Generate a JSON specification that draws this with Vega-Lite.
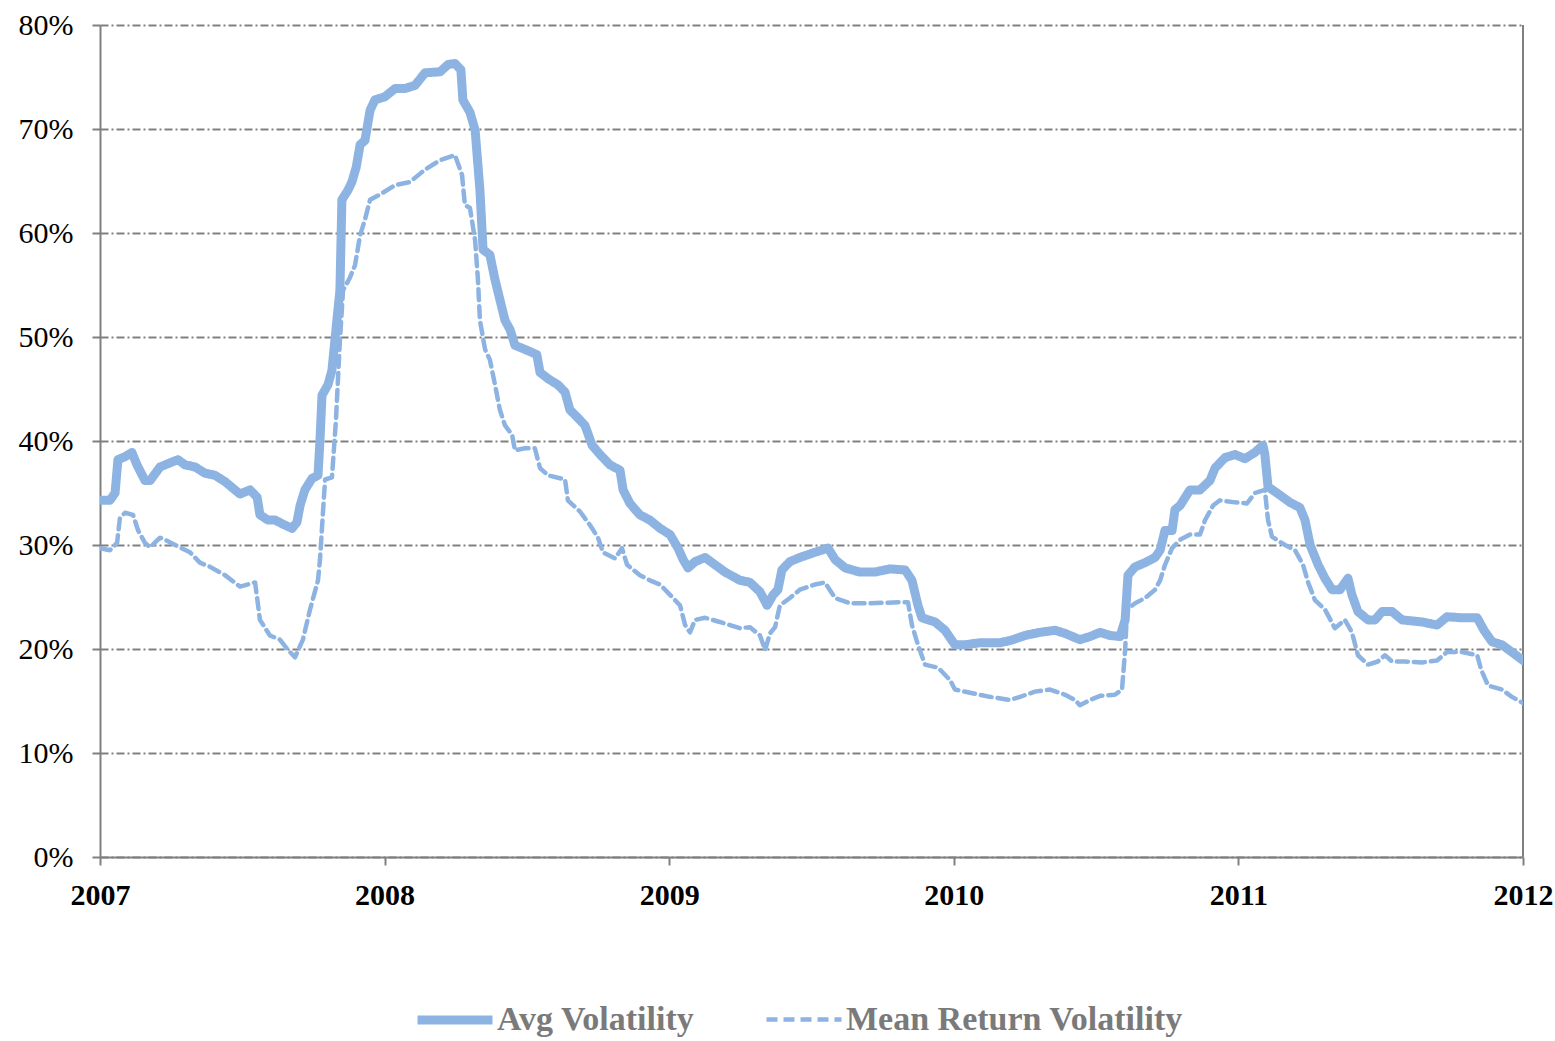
{
  "$schema": "https://vega.github.io/schema/vega-lite/v6.json",
  "width": 1423,
  "height": 832,
  "autosize": "none",
  "padding": {"left": 100, "top": 25, "right": 32, "bottom": 184},
  "background": "white",
  "config": {
    "view": {"stroke": null},
    "font": "Liberation Serif",
    "axis": {"domainColor": "#808080", "domainWidth": 2, "tickColor": "#808080", "tickWidth": 2, "tickSize": 8, "labelFont": "Liberation Serif", "labelColor": "#000000", "title": null},
    "legend": {
      "orient": "none", "legendX": 313, "legendY": 953, "direction": "horizontal", "columns": 2,
      "symbolType": "stroke", "symbolSize": 5625, "symbolStrokeColor": "#8db3e2",
      "labelFont": "Liberation Serif", "labelFontSize": 34, "labelFontWeight": "bold", "labelColor": "#7a7a7a",
      "labelLimit": 600, "labelOffset": 0, "columnPadding": 62, "padding": 0
    }
  },
  "datasets": {
    "vol": [
      {"s":"Avg Volatility","t":2007.000,"v":34.3},{"s":"Avg Volatility","t":2007.035,"v":34.3},{"s":"Avg Volatility","t":2007.053,"v":35.0},{"s":"Avg Volatility","t":2007.063,"v":38.2},{"s":"Avg Volatility","t":2007.088,"v":38.5},{"s":"Avg Volatility","t":2007.112,"v":38.9},{"s":"Avg Volatility","t":2007.130,"v":37.7},{"s":"Avg Volatility","t":2007.158,"v":36.2},{"s":"Avg Volatility","t":2007.176,"v":36.2},{"s":"Avg Volatility","t":2007.211,"v":37.5},{"s":"Avg Volatility","t":2007.246,"v":37.9},{"s":"Avg Volatility","t":2007.274,"v":38.2},{"s":"Avg Volatility","t":2007.299,"v":37.7},{"s":"Avg Volatility","t":2007.334,"v":37.5},{"s":"Avg Volatility","t":2007.369,"v":36.9},{"s":"Avg Volatility","t":2007.404,"v":36.7},{"s":"Avg Volatility","t":2007.439,"v":36.1},{"s":"Avg Volatility","t":2007.474,"v":35.3},{"s":"Avg Volatility","t":2007.492,"v":34.9},{"s":"Avg Volatility","t":2007.527,"v":35.3},{"s":"Avg Volatility","t":2007.552,"v":34.6},{"s":"Avg Volatility","t":2007.562,"v":32.9},{"s":"Avg Volatility","t":2007.590,"v":32.4},{"s":"Avg Volatility","t":2007.615,"v":32.4},{"s":"Avg Volatility","t":2007.643,"v":32.0},{"s":"Avg Volatility","t":2007.675,"v":31.6},{"s":"Avg Volatility","t":2007.692,"v":32.2},{"s":"Avg Volatility","t":2007.703,"v":33.8},{"s":"Avg Volatility","t":2007.720,"v":35.3},{"s":"Avg Volatility","t":2007.745,"v":36.4},{"s":"Avg Volatility","t":2007.766,"v":36.7},{"s":"Avg Volatility","t":2007.773,"v":40.1},{"s":"Avg Volatility","t":2007.780,"v":44.4},{"s":"Avg Volatility","t":2007.801,"v":45.4},{"s":"Avg Volatility","t":2007.815,"v":46.8},{"s":"Avg Volatility","t":2007.829,"v":50.7},{"s":"Avg Volatility","t":2007.843,"v":54.5},{"s":"Avg Volatility","t":2007.850,"v":63.2},{"s":"Avg Volatility","t":2007.871,"v":64.1},{"s":"Avg Volatility","t":2007.885,"v":64.9},{"s":"Avg Volatility","t":2007.900,"v":66.3},{"s":"Avg Volatility","t":2007.914,"v":68.5},{"s":"Avg Volatility","t":2007.931,"v":68.9},{"s":"Avg Volatility","t":2007.949,"v":71.8},{"s":"Avg Volatility","t":2007.966,"v":72.8},{"s":"Avg Volatility","t":2008.001,"v":73.1},{"s":"Avg Volatility","t":2008.037,"v":73.9},{"s":"Avg Volatility","t":2008.072,"v":73.9},{"s":"Avg Volatility","t":2008.107,"v":74.2},{"s":"Avg Volatility","t":2008.142,"v":75.4},{"s":"Avg Volatility","t":2008.195,"v":75.5},{"s":"Avg Volatility","t":2008.223,"v":76.2},{"s":"Avg Volatility","t":2008.247,"v":76.3},{"s":"Avg Volatility","t":2008.268,"v":75.7},{"s":"Avg Volatility","t":2008.275,"v":72.8},{"s":"Avg Volatility","t":2008.300,"v":71.6},{"s":"Avg Volatility","t":2008.318,"v":69.9},{"s":"Avg Volatility","t":2008.335,"v":64.1},{"s":"Avg Volatility","t":2008.346,"v":58.4},{"s":"Avg Volatility","t":2008.370,"v":57.9},{"s":"Avg Volatility","t":2008.388,"v":55.5},{"s":"Avg Volatility","t":2008.405,"v":53.6},{"s":"Avg Volatility","t":2008.423,"v":51.6},{"s":"Avg Volatility","t":2008.441,"v":50.7},{"s":"Avg Volatility","t":2008.458,"v":49.2},{"s":"Avg Volatility","t":2008.476,"v":49.0},{"s":"Avg Volatility","t":2008.511,"v":48.6},{"s":"Avg Volatility","t":2008.535,"v":48.3},{"s":"Avg Volatility","t":2008.546,"v":46.6},{"s":"Avg Volatility","t":2008.574,"v":46.0},{"s":"Avg Volatility","t":2008.609,"v":45.4},{"s":"Avg Volatility","t":2008.634,"v":44.7},{"s":"Avg Volatility","t":2008.651,"v":43.0},{"s":"Avg Volatility","t":2008.680,"v":42.2},{"s":"Avg Volatility","t":2008.704,"v":41.5},{"s":"Avg Volatility","t":2008.729,"v":39.6},{"s":"Avg Volatility","t":2008.757,"v":38.7},{"s":"Avg Volatility","t":2008.792,"v":37.7},{"s":"Avg Volatility","t":2008.827,"v":37.2},{"s":"Avg Volatility","t":2008.838,"v":35.3},{"s":"Avg Volatility","t":2008.862,"v":34.0},{"s":"Avg Volatility","t":2008.897,"v":32.9},{"s":"Avg Volatility","t":2008.932,"v":32.4},{"s":"Avg Volatility","t":2008.968,"v":31.6},{"s":"Avg Volatility","t":2009.003,"v":31.0},{"s":"Avg Volatility","t":2009.031,"v":29.7},{"s":"Avg Volatility","t":2009.049,"v":28.6},{"s":"Avg Volatility","t":2009.066,"v":27.8},{"s":"Avg Volatility","t":2009.091,"v":28.4},{"s":"Avg Volatility","t":2009.126,"v":28.8},{"s":"Avg Volatility","t":2009.161,"v":28.1},{"s":"Avg Volatility","t":2009.196,"v":27.4},{"s":"Avg Volatility","t":2009.249,"v":26.6},{"s":"Avg Volatility","t":2009.284,"v":26.4},{"s":"Avg Volatility","t":2009.319,"v":25.5},{"s":"Avg Volatility","t":2009.344,"v":24.2},{"s":"Avg Volatility","t":2009.365,"v":25.2},{"s":"Avg Volatility","t":2009.382,"v":25.7},{"s":"Avg Volatility","t":2009.396,"v":27.6},{"s":"Avg Volatility","t":2009.424,"v":28.4},{"s":"Avg Volatility","t":2009.459,"v":28.8},{"s":"Avg Volatility","t":2009.512,"v":29.3},{"s":"Avg Volatility","t":2009.558,"v":29.7},{"s":"Avg Volatility","t":2009.583,"v":28.6},{"s":"Avg Volatility","t":2009.618,"v":27.8},{"s":"Avg Volatility","t":2009.670,"v":27.4},{"s":"Avg Volatility","t":2009.723,"v":27.4},{"s":"Avg Volatility","t":2009.776,"v":27.7},{"s":"Avg Volatility","t":2009.829,"v":27.6},{"s":"Avg Volatility","t":2009.853,"v":26.6},{"s":"Avg Volatility","t":2009.874,"v":24.2},{"s":"Avg Volatility","t":2009.888,"v":23.0},{"s":"Avg Volatility","t":2009.934,"v":22.6},{"s":"Avg Volatility","t":2009.969,"v":21.8},{"s":"Avg Volatility","t":2010.004,"v":20.4},{"s":"Avg Volatility","t":2010.039,"v":20.4},{"s":"Avg Volatility","t":2010.092,"v":20.6},{"s":"Avg Volatility","t":2010.162,"v":20.6},{"s":"Avg Volatility","t":2010.197,"v":20.8},{"s":"Avg Volatility","t":2010.250,"v":21.3},{"s":"Avg Volatility","t":2010.303,"v":21.6},{"s":"Avg Volatility","t":2010.356,"v":21.8},{"s":"Avg Volatility","t":2010.391,"v":21.5},{"s":"Avg Volatility","t":2010.443,"v":20.9},{"s":"Avg Volatility","t":2010.479,"v":21.2},{"s":"Avg Volatility","t":2010.514,"v":21.6},{"s":"Avg Volatility","t":2010.549,"v":21.3},{"s":"Avg Volatility","t":2010.584,"v":21.2},{"s":"Avg Volatility","t":2010.602,"v":22.8},{"s":"Avg Volatility","t":2010.612,"v":27.1},{"s":"Avg Volatility","t":2010.637,"v":27.9},{"s":"Avg Volatility","t":2010.672,"v":28.3},{"s":"Avg Volatility","t":2010.707,"v":28.8},{"s":"Avg Volatility","t":2010.725,"v":29.5},{"s":"Avg Volatility","t":2010.742,"v":31.4},{"s":"Avg Volatility","t":2010.767,"v":31.4},{"s":"Avg Volatility","t":2010.777,"v":33.4},{"s":"Avg Volatility","t":2010.795,"v":33.8},{"s":"Avg Volatility","t":2010.830,"v":35.3},{"s":"Avg Volatility","t":2010.865,"v":35.3},{"s":"Avg Volatility","t":2010.900,"v":36.2},{"s":"Avg Volatility","t":2010.918,"v":37.4},{"s":"Avg Volatility","t":2010.953,"v":38.4},{"s":"Avg Volatility","t":2010.988,"v":38.7},{"s":"Avg Volatility","t":2011.023,"v":38.3},{"s":"Avg Volatility","t":2011.058,"v":38.9},{"s":"Avg Volatility","t":2011.086,"v":39.6},{"s":"Avg Volatility","t":2011.093,"v":38.7},{"s":"Avg Volatility","t":2011.104,"v":35.6},{"s":"Avg Volatility","t":2011.146,"v":34.8},{"s":"Avg Volatility","t":2011.181,"v":34.1},{"s":"Avg Volatility","t":2011.216,"v":33.6},{"s":"Avg Volatility","t":2011.234,"v":32.4},{"s":"Avg Volatility","t":2011.252,"v":30.0},{"s":"Avg Volatility","t":2011.280,"v":28.1},{"s":"Avg Volatility","t":2011.304,"v":26.8},{"s":"Avg Volatility","t":2011.329,"v":25.7},{"s":"Avg Volatility","t":2011.357,"v":25.7},{"s":"Avg Volatility","t":2011.385,"v":26.8},{"s":"Avg Volatility","t":2011.399,"v":25.2},{"s":"Avg Volatility","t":2011.420,"v":23.6},{"s":"Avg Volatility","t":2011.455,"v":22.8},{"s":"Avg Volatility","t":2011.480,"v":22.8},{"s":"Avg Volatility","t":2011.505,"v":23.6},{"s":"Avg Volatility","t":2011.540,"v":23.6},{"s":"Avg Volatility","t":2011.575,"v":22.8},{"s":"Avg Volatility","t":2011.645,"v":22.6},{"s":"Avg Volatility","t":2011.698,"v":22.3},{"s":"Avg Volatility","t":2011.733,"v":23.1},{"s":"Avg Volatility","t":2011.786,"v":23.0},{"s":"Avg Volatility","t":2011.839,"v":23.0},{"s":"Avg Volatility","t":2011.863,"v":21.8},{"s":"Avg Volatility","t":2011.891,"v":20.7},{"s":"Avg Volatility","t":2011.926,"v":20.4},{"s":"Avg Volatility","t":2011.961,"v":19.7},{"s":"Avg Volatility","t":2012.000,"v":18.9},
      {"s":"Mean Return Volatility","t":2007.000,"v":29.7},{"s":"Mean Return Volatility","t":2007.035,"v":29.5},{"s":"Mean Return Volatility","t":2007.060,"v":30.2},{"s":"Mean Return Volatility","t":2007.070,"v":32.6},{"s":"Mean Return Volatility","t":2007.088,"v":33.1},{"s":"Mean Return Volatility","t":2007.116,"v":32.9},{"s":"Mean Return Volatility","t":2007.134,"v":31.4},{"s":"Mean Return Volatility","t":2007.158,"v":30.2},{"s":"Mean Return Volatility","t":2007.176,"v":29.8},{"s":"Mean Return Volatility","t":2007.211,"v":30.7},{"s":"Mean Return Volatility","t":2007.228,"v":30.5},{"s":"Mean Return Volatility","t":2007.264,"v":30.0},{"s":"Mean Return Volatility","t":2007.316,"v":29.3},{"s":"Mean Return Volatility","t":2007.351,"v":28.3},{"s":"Mean Return Volatility","t":2007.387,"v":27.9},{"s":"Mean Return Volatility","t":2007.439,"v":27.1},{"s":"Mean Return Volatility","t":2007.492,"v":26.0},{"s":"Mean Return Volatility","t":2007.545,"v":26.4},{"s":"Mean Return Volatility","t":2007.562,"v":22.8},{"s":"Mean Return Volatility","t":2007.597,"v":21.3},{"s":"Mean Return Volatility","t":2007.632,"v":20.9},{"s":"Mean Return Volatility","t":2007.661,"v":19.9},{"s":"Mean Return Volatility","t":2007.685,"v":19.2},{"s":"Mean Return Volatility","t":2007.713,"v":20.9},{"s":"Mean Return Volatility","t":2007.738,"v":23.8},{"s":"Mean Return Volatility","t":2007.766,"v":26.6},{"s":"Mean Return Volatility","t":2007.773,"v":28.6},{"s":"Mean Return Volatility","t":2007.784,"v":33.4},{"s":"Mean Return Volatility","t":2007.791,"v":36.3},{"s":"Mean Return Volatility","t":2007.815,"v":36.5},{"s":"Mean Return Volatility","t":2007.829,"v":42.0},{"s":"Mean Return Volatility","t":2007.843,"v":49.7},{"s":"Mean Return Volatility","t":2007.854,"v":54.5},{"s":"Mean Return Volatility","t":2007.878,"v":55.7},{"s":"Mean Return Volatility","t":2007.896,"v":56.9},{"s":"Mean Return Volatility","t":2007.914,"v":59.8},{"s":"Mean Return Volatility","t":2007.931,"v":61.3},{"s":"Mean Return Volatility","t":2007.949,"v":63.2},{"s":"Mean Return Volatility","t":2007.984,"v":63.7},{"s":"Mean Return Volatility","t":2008.037,"v":64.6},{"s":"Mean Return Volatility","t":2008.089,"v":64.9},{"s":"Mean Return Volatility","t":2008.142,"v":66.1},{"s":"Mean Return Volatility","t":2008.195,"v":67.0},{"s":"Mean Return Volatility","t":2008.247,"v":67.5},{"s":"Mean Return Volatility","t":2008.272,"v":65.6},{"s":"Mean Return Volatility","t":2008.282,"v":62.7},{"s":"Mean Return Volatility","t":2008.300,"v":62.4},{"s":"Mean Return Volatility","t":2008.318,"v":59.3},{"s":"Mean Return Volatility","t":2008.328,"v":55.5},{"s":"Mean Return Volatility","t":2008.335,"v":51.6},{"s":"Mean Return Volatility","t":2008.353,"v":48.8},{"s":"Mean Return Volatility","t":2008.370,"v":47.8},{"s":"Mean Return Volatility","t":2008.388,"v":45.4},{"s":"Mean Return Volatility","t":2008.405,"v":43.0},{"s":"Mean Return Volatility","t":2008.423,"v":41.5},{"s":"Mean Return Volatility","t":2008.448,"v":40.6},{"s":"Mean Return Volatility","t":2008.458,"v":39.1},{"s":"Mean Return Volatility","t":2008.493,"v":39.3},{"s":"Mean Return Volatility","t":2008.528,"v":39.3},{"s":"Mean Return Volatility","t":2008.546,"v":37.4},{"s":"Mean Return Volatility","t":2008.574,"v":36.7},{"s":"Mean Return Volatility","t":2008.634,"v":36.3},{"s":"Mean Return Volatility","t":2008.644,"v":34.3},{"s":"Mean Return Volatility","t":2008.687,"v":33.2},{"s":"Mean Return Volatility","t":2008.722,"v":31.9},{"s":"Mean Return Volatility","t":2008.750,"v":30.7},{"s":"Mean Return Volatility","t":2008.767,"v":29.3},{"s":"Mean Return Volatility","t":2008.810,"v":28.7},{"s":"Mean Return Volatility","t":2008.834,"v":29.7},{"s":"Mean Return Volatility","t":2008.852,"v":28.1},{"s":"Mean Return Volatility","t":2008.897,"v":27.1},{"s":"Mean Return Volatility","t":2008.932,"v":26.6},{"s":"Mean Return Volatility","t":2008.968,"v":26.2},{"s":"Mean Return Volatility","t":2009.003,"v":25.2},{"s":"Mean Return Volatility","t":2009.038,"v":24.2},{"s":"Mean Return Volatility","t":2009.056,"v":22.3},{"s":"Mean Return Volatility","t":2009.073,"v":21.6},{"s":"Mean Return Volatility","t":2009.091,"v":22.8},{"s":"Mean Return Volatility","t":2009.126,"v":23.0},{"s":"Mean Return Volatility","t":2009.178,"v":22.6},{"s":"Mean Return Volatility","t":2009.249,"v":22.0},{"s":"Mean Return Volatility","t":2009.284,"v":22.1},{"s":"Mean Return Volatility","t":2009.319,"v":21.3},{"s":"Mean Return Volatility","t":2009.337,"v":19.9},{"s":"Mean Return Volatility","t":2009.354,"v":21.5},{"s":"Mean Return Volatility","t":2009.372,"v":22.1},{"s":"Mean Return Volatility","t":2009.389,"v":24.2},{"s":"Mean Return Volatility","t":2009.424,"v":24.9},{"s":"Mean Return Volatility","t":2009.459,"v":25.7},{"s":"Mean Return Volatility","t":2009.512,"v":26.2},{"s":"Mean Return Volatility","t":2009.547,"v":26.4},{"s":"Mean Return Volatility","t":2009.583,"v":24.9},{"s":"Mean Return Volatility","t":2009.635,"v":24.4},{"s":"Mean Return Volatility","t":2009.706,"v":24.4},{"s":"Mean Return Volatility","t":2009.811,"v":24.5},{"s":"Mean Return Volatility","t":2009.839,"v":24.5},{"s":"Mean Return Volatility","t":2009.853,"v":22.3},{"s":"Mean Return Volatility","t":2009.874,"v":20.4},{"s":"Mean Return Volatility","t":2009.899,"v":18.5},{"s":"Mean Return Volatility","t":2009.945,"v":18.2},{"s":"Mean Return Volatility","t":2009.987,"v":17.0},{"s":"Mean Return Volatility","t":2010.004,"v":16.1},{"s":"Mean Return Volatility","t":2010.057,"v":15.8},{"s":"Mean Return Volatility","t":2010.127,"v":15.4},{"s":"Mean Return Volatility","t":2010.197,"v":15.1},{"s":"Mean Return Volatility","t":2010.233,"v":15.4},{"s":"Mean Return Volatility","t":2010.285,"v":15.9},{"s":"Mean Return Volatility","t":2010.338,"v":16.1},{"s":"Mean Return Volatility","t":2010.391,"v":15.6},{"s":"Mean Return Volatility","t":2010.426,"v":15.1},{"s":"Mean Return Volatility","t":2010.443,"v":14.6},{"s":"Mean Return Volatility","t":2010.479,"v":15.1},{"s":"Mean Return Volatility","t":2010.514,"v":15.5},{"s":"Mean Return Volatility","t":2010.566,"v":15.6},{"s":"Mean Return Volatility","t":2010.591,"v":16.1},{"s":"Mean Return Volatility","t":2010.602,"v":19.9},{"s":"Mean Return Volatility","t":2010.609,"v":23.8},{"s":"Mean Return Volatility","t":2010.637,"v":24.4},{"s":"Mean Return Volatility","t":2010.672,"v":24.9},{"s":"Mean Return Volatility","t":2010.707,"v":25.7},{"s":"Mean Return Volatility","t":2010.725,"v":26.6},{"s":"Mean Return Volatility","t":2010.742,"v":28.1},{"s":"Mean Return Volatility","t":2010.767,"v":29.7},{"s":"Mean Return Volatility","t":2010.795,"v":30.5},{"s":"Mean Return Volatility","t":2010.830,"v":31.0},{"s":"Mean Return Volatility","t":2010.865,"v":31.0},{"s":"Mean Return Volatility","t":2010.883,"v":32.4},{"s":"Mean Return Volatility","t":2010.911,"v":33.8},{"s":"Mean Return Volatility","t":2010.935,"v":34.3},{"s":"Mean Return Volatility","t":2010.988,"v":34.1},{"s":"Mean Return Volatility","t":2011.030,"v":34.0},{"s":"Mean Return Volatility","t":2011.058,"v":35.0},{"s":"Mean Return Volatility","t":2011.093,"v":35.3},{"s":"Mean Return Volatility","t":2011.104,"v":32.4},{"s":"Mean Return Volatility","t":2011.118,"v":30.8},{"s":"Mean Return Volatility","t":2011.164,"v":30.0},{"s":"Mean Return Volatility","t":2011.199,"v":29.5},{"s":"Mean Return Volatility","t":2011.227,"v":28.1},{"s":"Mean Return Volatility","t":2011.245,"v":26.4},{"s":"Mean Return Volatility","t":2011.269,"v":24.7},{"s":"Mean Return Volatility","t":2011.304,"v":23.8},{"s":"Mean Return Volatility","t":2011.339,"v":22.0},{"s":"Mean Return Volatility","t":2011.374,"v":22.8},{"s":"Mean Return Volatility","t":2011.399,"v":21.6},{"s":"Mean Return Volatility","t":2011.420,"v":19.4},{"s":"Mean Return Volatility","t":2011.455,"v":18.5},{"s":"Mean Return Volatility","t":2011.490,"v":18.8},{"s":"Mean Return Volatility","t":2011.515,"v":19.4},{"s":"Mean Return Volatility","t":2011.540,"v":18.8},{"s":"Mean Return Volatility","t":2011.585,"v":18.8},{"s":"Mean Return Volatility","t":2011.645,"v":18.7},{"s":"Mean Return Volatility","t":2011.698,"v":18.9},{"s":"Mean Return Volatility","t":2011.733,"v":19.7},{"s":"Mean Return Volatility","t":2011.786,"v":19.7},{"s":"Mean Return Volatility","t":2011.839,"v":19.4},{"s":"Mean Return Volatility","t":2011.853,"v":18.0},{"s":"Mean Return Volatility","t":2011.877,"v":16.5},{"s":"Mean Return Volatility","t":2011.926,"v":16.1},{"s":"Mean Return Volatility","t":2011.961,"v":15.4},{"s":"Mean Return Volatility","t":2012.000,"v":14.8}
    ],
    "edge": [{"t": 2012}]
  },
  "layer": [
    {
      "data": {"name": "edge"},
      "mark": {"type": "rule", "color": "#808080", "strokeWidth": 2},
      "encoding": {
        "x": {"field": "t", "type": "quantitative", "scale": {"domain": [2007, 2012], "nice": false, "zero": false}}
      }
    },
    {
      "data": {"name": "vol"},
      "mark": {"type": "line", "color": "#8db3e2", "strokeCap": "round", "strokeJoin": "round", "clip": true},
      "encoding": {
        "x": {
          "field": "t", "type": "quantitative",
          "scale": {"domain": [2007, 2012], "nice": false, "zero": false},
          "axis": {"values": [2007, 2008, 2009, 2010, 2011, 2012], "format": "d", "grid": false, "labelFontSize": 30, "labelFontWeight": "bold", "labelPadding": 15, "labelFlush": false}
        },
        "y": {
          "field": "v", "type": "quantitative",
          "scale": {"domain": [0, 80], "nice": false},
          "axis": {"values": [0, 10, 20, 30, 40, 50, 60, 70, 80], "labelExpr": "datum.value + '%'", "grid": true, "gridColor": "#808080", "gridWidth": 2, "gridDash": [8, 3, 2, 3], "labelFontSize": 30, "labelPadding": 19}
        },
        "strokeWidth": {"field": "s", "type": "nominal", "title": null, "scale": {"domain": ["Avg Volatility", "Mean Return Volatility"], "range": [9, 4.5]}},
        "strokeDash": {"field": "s", "type": "nominal", "title": null, "scale": {"domain": ["Avg Volatility", "Mean Return Volatility"], "range": [[1, 0], [11, 6]]}},
        "order": {"field": "t", "type": "quantitative"}
      }
    }
  ]
}
